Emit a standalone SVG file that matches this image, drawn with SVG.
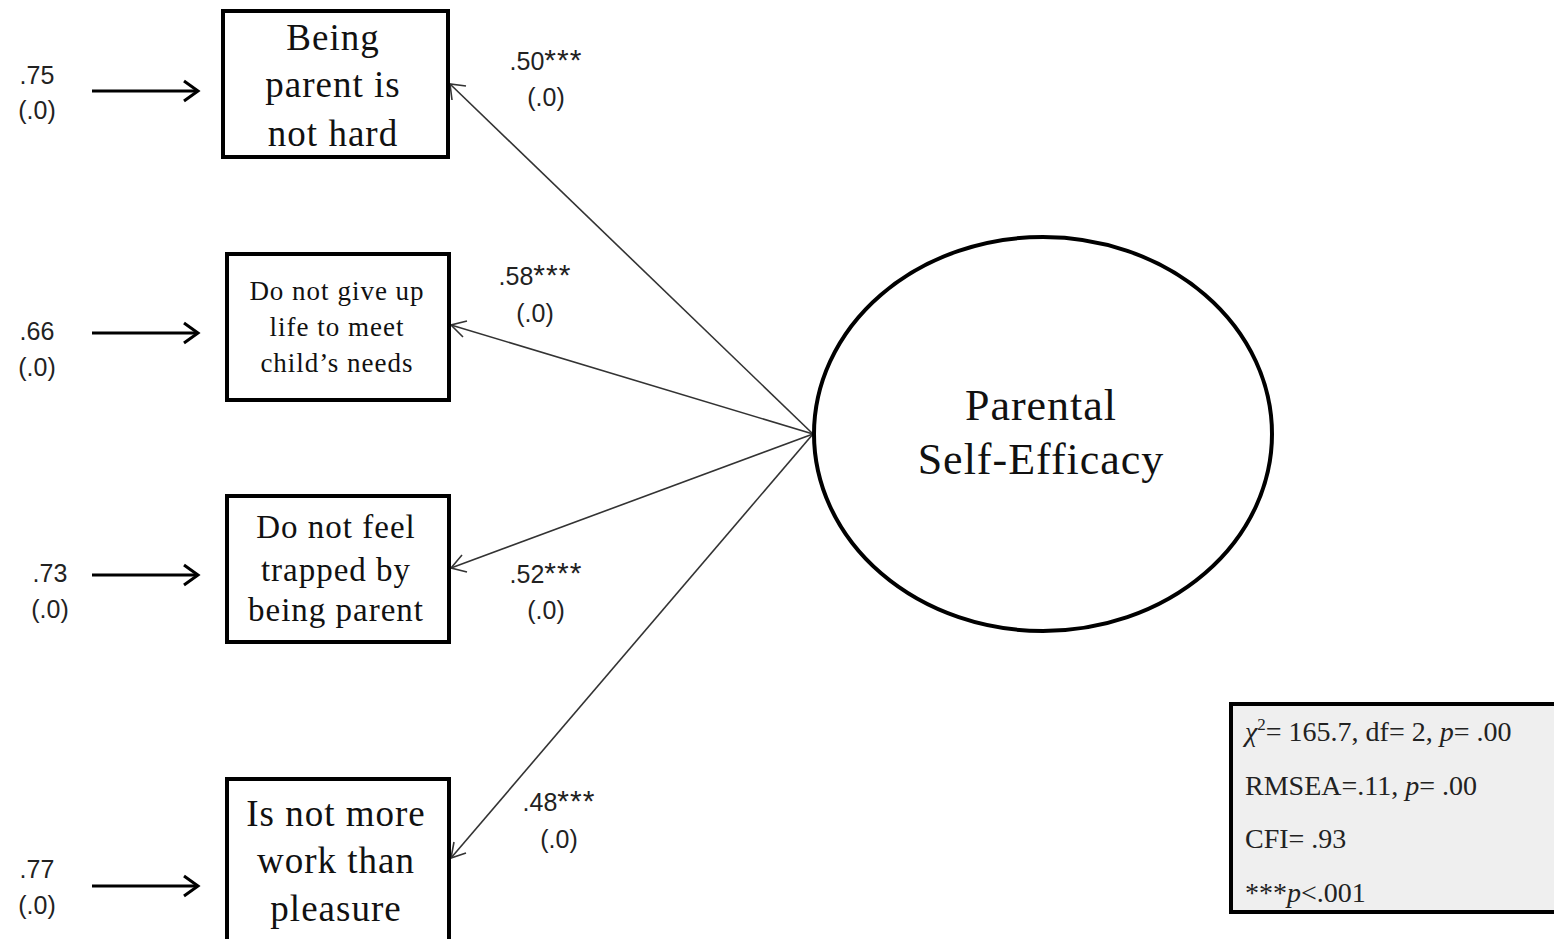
<svg xmlns="http://www.w3.org/2000/svg" width="1554" height="939" viewBox="0 0 1554 939">
<style>
.box{fill:#fff;stroke:#000;stroke-width:4}
.serif{font-family:"Liberation Serif","Times New Roman",serif;fill:#111;text-anchor:middle;letter-spacing:1px}
.lab{font-family:"Liberation Sans Narrow","Liberation Sans",Arial,sans-serif;font-size:25px;fill:#222;text-anchor:middle}
.ast{font-size:30px;letter-spacing:1px}
.conn{stroke:#333;stroke-width:1.6;fill:none}
.err{stroke:#000;stroke-width:3;fill:none}
.stat{font-family:"Liberation Serif","Times New Roman",serif;font-size:28px;fill:#222}
</style>
<rect width="1554" height="939" fill="#fff"/>
<g id="connectors">
  <line class="conn" x1="813" y1="434" x2="450" y2="84"/>
  <polyline class="conn" points="452,100 450,84 466,86"/>
  <line class="conn" x1="813" y1="434" x2="451" y2="325"/>
  <polyline class="conn" points="463,337 451,325 467,321"/>
  <line class="conn" x1="813" y1="434" x2="451" y2="568"/>
  <polyline class="conn" points="467,572 451,568 462,555"/>
  <line class="conn" x1="813" y1="434" x2="451" y2="858"/>
  <polyline class="conn" points="466,853 451,858 454,842"/>
  <line class="err" x1="92" y1="91" x2="198" y2="91"/>
  <polyline class="err" points="184,81 198,91 184,101"/>
  <line class="err" x1="92" y1="333" x2="198" y2="333"/>
  <polyline class="err" points="184,323 198,333 184,343"/>
  <line class="err" x1="92" y1="575" x2="198" y2="575"/>
  <polyline class="err" points="184,565 198,575 184,585"/>
  <line class="err" x1="92" y1="886" x2="198" y2="886"/>
  <polyline class="err" points="184,876 198,886 184,896"/>
</g>
<g id="node1">
  <rect class="box" x="223" y="11" width="225" height="146"/>
  <text class="serif" font-size="37" x="333" y="50">Being</text>
  <text class="serif" font-size="37" x="333" y="97">parent is</text>
  <text class="serif" font-size="37" x="333" y="146">not hard</text>
</g>
<g id="node2">
  <rect class="box" x="227" y="254" width="222" height="146"/>
  <text class="serif" font-size="27" x="337" y="300">Do not give up</text>
  <text class="serif" font-size="27" x="337" y="336">life to meet</text>
  <text class="serif" font-size="27" x="337" y="372">child’s needs</text>
</g>
<g id="node3">
  <rect class="box" x="227" y="496" width="222" height="146"/>
  <text class="serif" font-size="33" x="336" y="538">Do not feel</text>
  <text class="serif" font-size="33" x="336" y="581">trapped by</text>
  <text class="serif" font-size="33" x="336" y="621">being parent</text>
</g>
<g id="node4">
  <rect class="box" x="227" y="779" width="222" height="170"/>
  <text class="serif" font-size="37" x="336" y="826">Is not more</text>
  <text class="serif" font-size="37" x="336" y="873">work than</text>
  <text class="serif" font-size="37" x="336" y="921">pleasure</text>
</g>
<g id="latent">
  <ellipse cx="1043" cy="434" rx="229" ry="197" fill="#fff" stroke="#000" stroke-width="4"/>
  <text class="serif" font-size="44" x="1041" y="420">Parental</text>
  <text class="serif" font-size="44" x="1041" y="474">Self-Efficacy</text>
</g>
<g id="error-labels">
  <text class="lab" x="37" y="84">.75</text>
  <text class="lab" x="37" y="119">(.0)</text>
  <text class="lab" x="37" y="340">.66</text>
  <text class="lab" x="37" y="376">(.0)</text>
  <text class="lab" x="50" y="582">.73</text>
  <text class="lab" x="50" y="618">(.0)</text>
  <text class="lab" x="37" y="878">.77</text>
  <text class="lab" x="37" y="914">(.0)</text>
</g>
<g id="path-labels">
  <text class="lab" x="546" y="70">.50<tspan class="ast">***</tspan></text>
  <text class="lab" x="546" y="106">(.0)</text>
  <text class="lab" x="535" y="285">.58<tspan class="ast">***</tspan></text>
  <text class="lab" x="535" y="322">(.0)</text>
  <text class="lab" x="546" y="583">.52<tspan class="ast">***</tspan></text>
  <text class="lab" x="546" y="619">(.0)</text>
  <text class="lab" x="559" y="811">.48<tspan class="ast">***</tspan></text>
  <text class="lab" x="559" y="848">(.0)</text>
</g>
<g id="fit-stats">
  <rect x="1231" y="704" width="330" height="208" fill="#efefef" stroke="#000" stroke-width="4"/>
  <text class="stat" x="1245" y="741"><tspan font-style="italic">χ</tspan><tspan font-size="17" dy="-11">2</tspan><tspan dy="11">= 165.7, df= 2, </tspan><tspan font-style="italic">p</tspan>= .00</text>
  <text class="stat" x="1245" y="795">RMSEA=.11, <tspan font-style="italic">p</tspan>= .00</text>
  <text class="stat" x="1245" y="848">CFI= .93</text>
  <text class="stat" x="1245" y="902">***<tspan font-style="italic">p</tspan>&lt;.001</text>
</g>
</svg>
